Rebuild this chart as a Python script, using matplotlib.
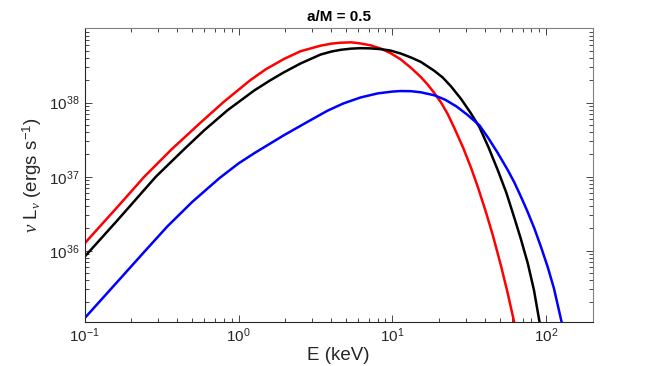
import numpy as np
import matplotlib
matplotlib.use('Agg')
import matplotlib.pyplot as plt
from matplotlib.ticker import LogLocator, NullFormatter

plt.rcParams['font.family'] = ['Liberation Sans', 'DejaVu Sans']
plt.rcParams['mathtext.fontset'] = 'custom'
plt.rcParams['mathtext.rm'] = 'Liberation Sans'
plt.rcParams['mathtext.it'] = 'Liberation Serif:italic'

# Spectra: energy (keV) and log10 of nu L_nu (erg/s)
red_E = [0.1, 0.163, 0.243, 0.363, 0.556, 0.8, 1.19, 1.5, 1.97, 2.53, 3.41, 4.0, 4.6, 5.4, 6.2, 7.2, 8.4, 9.7,
         11.3, 13.2, 15.3, 17.0, 18.7, 20.7, 22.8, 25.2, 28.8, 32.4, 36.0, 40.5, 45.0, 50.8, 56.0, 62.0]
red_logL = [36.10, 36.59, 36.996, 37.36, 37.716, 38.01, 38.303, 38.45, 38.59, 38.695, 38.77, 38.797, 38.81, 38.815,
            38.80, 38.775, 38.73, 38.67, 38.585, 38.47, 38.345, 38.24, 38.13, 38.0, 37.85, 37.66, 37.39, 37.12,
            36.85, 36.52, 36.2, 35.79, 35.43, 35.02]

black_E = [0.1, 0.163, 0.29, 0.437, 0.598, 0.85, 1.27, 1.6, 1.97, 2.53, 3.41, 4.0, 4.6, 5.4, 6.2, 7.2, 8.4, 9.7,
           11.3, 13.2, 15.3, 18.7, 21.2, 24.0, 27.9, 32.0, 36.7, 42.0, 48.3, 55.0, 62.0, 68.0, 75.7, 83.0, 90.2, 95.0]
black_logL = [35.92, 36.41, 37.0, 37.36, 37.627, 37.9, 38.168, 38.3, 38.41, 38.53, 38.65, 38.69, 38.714, 38.73,
              38.736, 38.733, 38.723, 38.704, 38.664, 38.61, 38.55, 38.43, 38.34, 38.22, 38.05, 37.87, 37.67, 37.40,
              37.09, 36.78, 36.44, 36.17, 35.83, 35.47, 35.04, 34.8]

blue_E = [0.1, 0.163, 0.245, 0.345, 0.5, 0.75, 1.0, 1.27, 1.97, 2.8, 3.77, 4.8, 6.2, 8.0, 10.0, 11.3, 13.2, 15.3,
          18.7, 22.0, 26.0, 30.5, 36.7, 42.0, 48.0, 56.1, 62.0, 68.0, 75.0, 83.6, 93.0, 102.0, 112.0, 123.6, 128.0]
blue_logL = [35.09, 35.58, 35.99, 36.33, 36.66, 36.98, 37.18, 37.32, 37.56, 37.74, 37.89, 37.99, 38.07, 38.125, 38.15,
             38.157, 38.155, 38.14, 38.10, 38.04, 37.95, 37.84, 37.695, 37.52, 37.33, 37.09, 36.92, 36.74, 36.54,
             36.3, 36.03, 35.78, 35.49, 35.1, 34.96]

fig = plt.figure(figsize=(6.54, 3.66), dpi=100)
ax = fig.add_axes([0.1295, 0.121, 0.7768, 0.8025])

ax.plot(red_E, 10.0 ** np.array(red_logL), color='#ff0000', lw=1.8)
ax.plot(black_E, 10.0 ** np.array(black_logL), color='#000000', lw=1.8)
ax.plot(blue_E, 10.0 ** np.array(blue_logL), color='#0000ff', lw=1.8)

ax.set_xscale('log')
ax.set_yscale('log')
ax.set_xlim(0.1, 200)
ax.set_ylim(1.1e35, 1.02e39)

ax.xaxis.set_major_locator(LogLocator(base=10, numticks=10))
ax.xaxis.set_minor_locator(LogLocator(base=10, subs=np.arange(2, 10), numticks=10))
ax.xaxis.set_minor_formatter(NullFormatter())
ax.set_yticks([1e36, 1e37, 1e38])
ax.yaxis.set_minor_locator(LogLocator(base=10, subs=np.arange(2, 10), numticks=10))
ax.yaxis.set_minor_formatter(NullFormatter())

gray = '#262626'
ax.spines['left'].set_color(gray)
ax.spines['bottom'].set_color(gray)
ax.spines['top'].set_color('#808080')
ax.spines['right'].set_color('#808080')
for s in ax.spines.values():
    s.set_linewidth(0.8)
ax.tick_params(which='both', direction='in', top=True, right=True, colors=gray, labelcolor=gray, labelsize=11)
ax.tick_params(which='major', length=5, width=0.6)
ax.tick_params(which='minor', length=3, width=0.6)

ax.set_title('a/M = 0.5', fontsize=11, fontweight='bold', pad=5)
ax.set_xlabel('E (keV)', fontsize=13.5, color=gray, labelpad=1)
ax.set_ylabel(r'$\mathit{\nu}$ L$_{\mathit{\nu}}$ (ergs s$^{-1}$)', fontsize=13.5, color=gray, labelpad=4)

fig.savefig('out.png', dpi=100)
